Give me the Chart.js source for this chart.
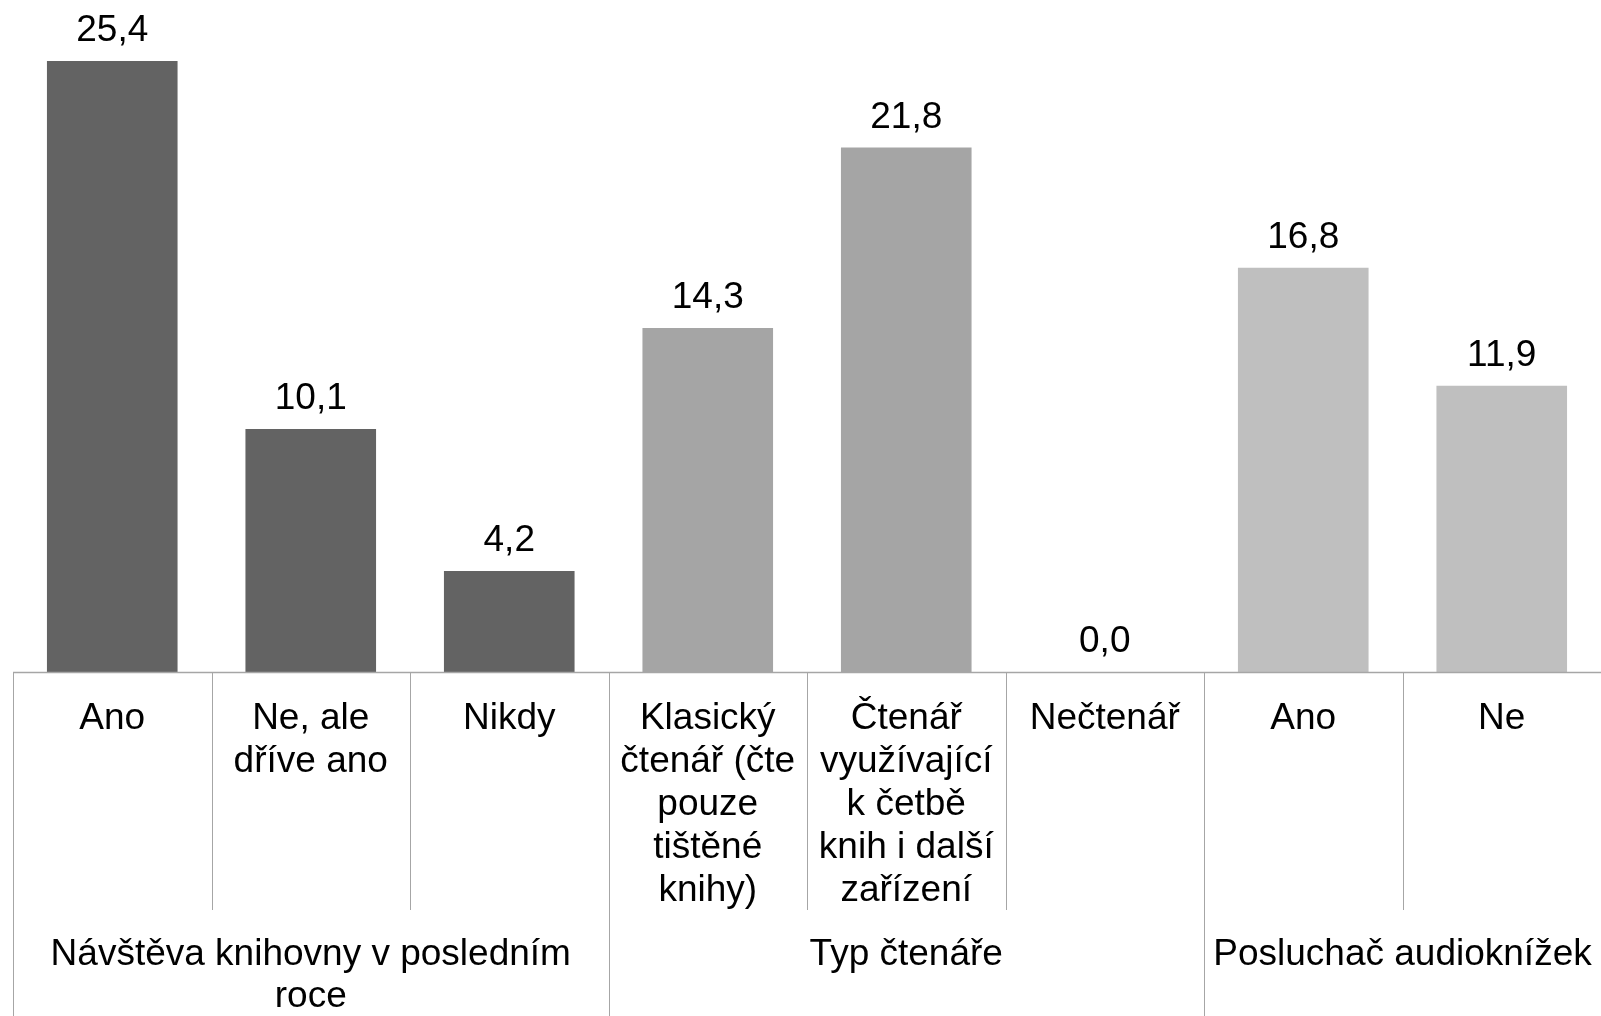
<!DOCTYPE html>
<html>
<head>
<meta charset="utf-8">
<script src="https://cdn.jsdelivr.net/npm/chart.js@4/dist/chart.umd.min.js"></script>
<style>
  html, body { margin: 0; padding: 0; background: #fff; }
  #wrap { width: 1601px; height: 1016px; position: relative; }
</style>
</head>
<body>
<div id="wrap"><canvas id="c" width="1601" height="1016"></canvas></div>
<script>
// ---- data ----
const categories = [
  ["Ano"],
  ["Ne, ale", "dříve ano"],
  ["Nikdy"],
  ["Klasický", "čtenář (čte", "pouze", "tištěné", "knihy)"],
  ["Čtenář", "využívající", "k četbě", "knih i další", "zařízení"],
  ["Nečtenář"],
  ["Ano"],
  ["Ne"]
];
const values = [25.4, 10.1, 4.2, 14.3, 21.8, 0.0, 16.8, 11.9];
const groupNames = [["Návštěva knihovny v posledním", "roce"], ["Typ čtenáře"], ["Posluchač audioknížek"]];
const groupStarts = [0, 3, 6];
const groupSizes = [3, 3, 2];
const groupColors = ["#636363", "#a5a5a5", "#bfbfbf"];

const barColors = [];
groupSizes.forEach((n, g) => { for (let k = 0; k < n; k++) barColors.push(groupColors[g]); });

const FONT = "37px 'Liberation Sans', Arial, sans-serif";
const LINE = "#a6a6a6";

const decor = {
  id: 'decor',
  afterDatasetsDraw(chart) {
    const ctx = chart.ctx;
    const xs = chart.scales.x, ys = chart.scales.y;
    const area = chart.chartArea;
    const n = categories.length;
    const step = (area.right - area.left) / n;
    const axisY = ys.getPixelForValue(0);
    ctx.save();
    // axis line
    ctx.strokeStyle = LINE;
    ctx.lineWidth = 1.5;
    ctx.beginPath();
    ctx.moveTo(area.left, Math.round(axisY) + 0.5);
    ctx.lineTo(chart.width, Math.round(axisY) + 0.5);
    ctx.stroke();
    // dividers
    ctx.lineWidth = 1;
    for (let i = 0; i < n; i++) {
      const x = Math.round(xs.getPixelForValue(i) - step / 2) + 0.5;
      const isGroup = groupStarts.includes(i);
      ctx.beginPath();
      ctx.moveTo(x, axisY);
      ctx.lineTo(x, isGroup ? chart.height : axisY + 238);
      ctx.stroke();
    }
    // value labels
    ctx.fillStyle = '#000';
    ctx.font = FONT;
    ctx.textAlign = 'center';
    ctx.textBaseline = 'alphabetic';
    const meta = chart.getDatasetMeta(0);
    meta.data.forEach((bar, i) => {
      ctx.fillText(values[i].toFixed(1).replace('.', ','), bar.x, bar.y - 20);
    });
    // category labels
    categories.forEach((lines, i) => {
      const x = xs.getPixelForValue(i);
      lines.forEach((t, j) => ctx.fillText(t, x, axisY + 57 + j * 43));
    });
    // group labels
    groupNames.forEach((lines, g) => {
      const a = xs.getPixelForValue(groupStarts[g]) - step / 2;
      const b = xs.getPixelForValue(groupStarts[g] + groupSizes[g] - 1) + step / 2;
      lines.forEach((t, j) => ctx.fillText(t, (a + b) / 2, axisY + 293 + j * 42));
    });
    ctx.restore();
  }
};

new Chart(document.getElementById('c'), {
  type: 'bar',
  data: {
    labels: categories.map(l => l.join(' ')),
    datasets: [{
      data: values,
      backgroundColor: barColors,
      borderWidth: 0,
      categoryPercentage: 1.0,
      barPercentage: 0.658
    }]
  },
  options: {
    responsive: false,
    animation: false,
    devicePixelRatio: 1,
    layout: { padding: { left: 13, right: 0, top: 61, bottom: 0 } },
    plugins: { legend: { display: false }, tooltip: { enabled: false } },
    scales: {
      x: {
        ticks: { display: false },
        grid: { display: false },
        border: { display: false },
        afterFit(scale) { scale.height = 344; }
      },
      y: {
        display: false,
        min: 0,
        max: 25.4
      }
    }
  },
  plugins: [decor]
});
</script>
</body>
</html>
